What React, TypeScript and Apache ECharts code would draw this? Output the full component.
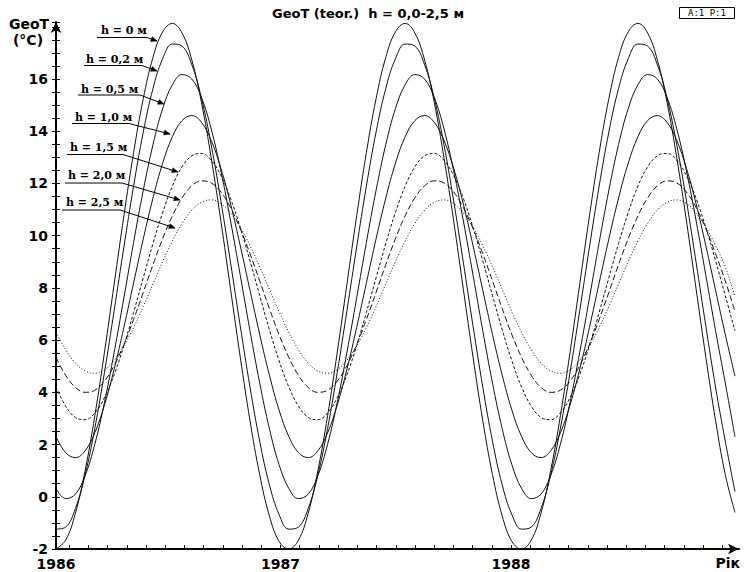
import React, { useEffect, useRef } from 'react';
import * as echarts from 'echarts';

// Axis tick labels
const yearLabels = ['1986', '1987', '1988'];
const tempTickValues = [-2, 0, 2, 4, 6, 8, 10, 12, 14, 16];

// Depth names (legend annotations)
const depthNames = ['h = 0 м', 'h = 0,2 м', 'h = 0,5 м', 'h = 1,0 м', 'h = 1,5 м', 'h = 2,0 м', 'h = 2,5 м'];

// Time grid: samples every ~15.4 days starting at the axis start (years after 1 Jan 1986)
const startYear = 0.026;
const sampleStep = 0.04208;

// Soil temperature (°C) at each depth
const h00 = [
  -2.0, -1.66, -0.63, 1.0, 3.1, 5.54, 8.16, 10.76, 13.18, 15.25, 16.83, 17.81, 18.13, 17.76, 16.73, 15.1, 12.98, 10.56, 7.94, 5.34, 2.92, 0.85, -0.73, -1.71,
  -2.0, -1.66, -0.63, 1.0, 3.1, 5.54, 8.16, 10.76, 13.18, 15.25, 16.83, 17.81, 18.13, 17.76, 16.73, 15.1, 12.98, 10.56, 7.94, 5.34, 2.92, 0.85, -0.73, -1.71,
  -2.0, -1.66, -0.63, 1.0, 3.1, 5.54, 8.16, 10.76, 13.18, 15.25, 16.83, 17.81, 18.13, 17.76, 16.73, 15.1, 12.98, 10.56, 7.94, 5.34, 2.92, 0.85, -0.6,
];
const h02 = [
  -1.24, -1.16, -0.45, 0.84, 2.62, 4.77, 7.14, 9.57, 11.9, 13.97, 15.64, 16.78, 17.34, 17.26, 16.55, 15.26, 13.48, 11.33, 8.96, 6.53, 4.2, 2.13, 0.46, -0.68,
  -1.24, -1.16, -0.45, 0.84, 2.62, 4.77, 7.14, 9.57, 11.9, 13.97, 15.64, 16.78, 17.34, 17.26, 16.55, 15.26, 13.48, 11.33, 8.96, 6.53, 4.2, 2.13, 0.46, -0.68,
  -1.24, -1.16, -0.45, 0.84, 2.62, 4.77, 7.14, 9.57, 11.9, 13.97, 15.64, 16.78, 17.34, 17.26, 16.55, 15.26, 13.48, 11.33, 8.96, 6.53, 4.2, 2.13, 0.2,
];
const h05 = [
  0.32, -0.07, 0.1, 0.81, 2.01, 3.62, 5.54, 7.62, 9.74, 11.74, 13.49, 14.87, 15.78, 16.17, 16.0, 15.29, 14.09, 12.48, 10.56, 8.48, 6.36, 4.36, 2.61, 1.23,
  0.32, -0.07, 0.1, 0.81, 2.01, 3.62, 5.54, 7.62, 9.74, 11.74, 13.49, 14.87, 15.78, 16.17, 16.0, 15.29, 14.09, 12.48, 10.56, 8.48, 6.36, 4.36, 2.61, 1.23,
  0.32, -0.07, 0.1, 0.81, 2.01, 3.62, 5.54, 7.62, 9.74, 11.74, 13.49, 14.87, 15.78, 16.17, 16.0, 15.29, 14.09, 12.48, 10.56, 8.48, 6.36, 4.36, 2.3,
];
const h10 = [
  2.31, 1.69, 1.5, 1.76, 2.45, 3.52, 4.89, 6.49, 8.19, 9.88, 11.44, 12.78, 13.79, 14.41, 14.6, 14.34, 13.65, 12.58, 11.21, 9.61, 7.91, 6.22, 4.66, 3.32,
  2.31, 1.69, 1.5, 1.76, 2.45, 3.52, 4.89, 6.49, 8.19, 9.88, 11.44, 12.78, 13.79, 14.41, 14.6, 14.34, 13.65, 12.58, 11.21, 9.61, 7.91, 6.22, 4.66, 3.32,
  2.31, 1.69, 1.5, 1.76, 2.45, 3.52, 4.89, 6.49, 8.19, 9.88, 11.44, 12.78, 13.79, 14.41, 14.6, 14.34, 13.65, 12.58, 11.21, 9.61, 7.91, 6.22, 4.62,
];
const h15 = [
  4.21, 3.47, 3.04, 2.95, 3.21, 3.8, 4.68, 5.79, 7.06, 8.39, 9.7, 10.89, 11.9, 12.64, 13.06, 13.15, 12.89, 12.3, 11.42, 10.31, 9.04, 7.71, 6.4, 5.21,
  4.21, 3.47, 3.04, 2.95, 3.21, 3.8, 4.68, 5.79, 7.06, 8.39, 9.7, 10.89, 11.9, 12.64, 13.06, 13.15, 12.89, 12.3, 11.42, 10.31, 9.04, 7.71, 6.4, 5.21,
  4.21, 3.47, 3.04, 2.95, 3.21, 3.8, 4.68, 5.79, 7.06, 8.39, 9.7, 10.89, 11.9, 12.64, 13.06, 13.15, 12.89, 12.3, 11.42, 10.31, 9.04, 7.71, 6.35,
];
const h20 = [
  5.34, 4.65, 4.19, 4.0, 4.08, 4.43, 5.03, 5.83, 6.79, 7.83, 8.89, 9.89, 10.76, 11.45, 11.91, 12.1, 12.02, 11.67, 11.07, 10.27, 9.31, 8.27, 7.21, 6.21,
  5.34, 4.65, 4.19, 4.0, 4.08, 4.43, 5.03, 5.83, 6.79, 7.83, 8.89, 9.89, 10.76, 11.45, 11.91, 12.1, 12.02, 11.67, 11.07, 10.27, 9.31, 8.27, 7.21, 6.21,
  5.34, 4.65, 4.19, 4.0, 4.08, 4.43, 5.03, 5.83, 6.79, 7.83, 8.89, 9.89, 10.76, 11.45, 11.91, 12.1, 12.02, 11.67, 11.07, 10.27, 9.31, 8.27, 7.1,
];
const h25 = [
  6.3, 5.63, 5.12, 4.82, 4.73, 4.87, 5.23, 5.78, 6.48, 7.29, 8.15, 9.01, 9.8, 10.47, 10.98, 11.28, 11.37, 11.23, 10.87, 10.32, 9.62, 8.81, 7.95, 7.09,
  6.3, 5.63, 5.12, 4.82, 4.73, 4.87, 5.23, 5.78, 6.48, 7.29, 8.15, 9.01, 9.8, 10.47, 10.98, 11.28, 11.37, 11.23, 10.87, 10.32, 9.62, 8.81, 7.95, 7.09,
  6.3, 5.63, 5.12, 4.82, 4.73, 4.87, 5.23, 5.78, 6.48, 7.29, 8.15, 9.01, 9.8, 10.47, 10.98, 11.28, 11.37, 11.23, 10.87, 10.32, 9.62, 8.81, 7.65,
];

const seriesValues = [h00, h02, h05, h10, h15, h20, h25];
const dashStyles: any[] = ['solid', 'solid', 'solid', 'solid', [3, 2], [6, 3], [1, 2]];

// annotation layout (pixels)
const notes = [
  { tx: 101, ty: 30, ux0: 97, ux1: 147, uy: 37.5, ax: 157, ay: 41 },
  { tx: 86, ty: 59, ux0: 84, ux1: 142, uy: 65.5, ax: 157, ay: 71 },
  { tx: 81, ty: 89, ux0: 78, ux1: 140, uy: 95, ax: 164, ay: 104 },
  { tx: 75, ty: 117.5, ux0: 72, ux1: 129, uy: 123.5, ax: 170, ay: 134 },
  { tx: 70, ty: 147.5, ux0: 67, ux1: 123, uy: 154.5, ax: 178, ay: 172 },
  { tx: 68, ty: 175, ux0: 65, ux1: 122, uy: 183, ax: 180, ay: 200 },
  { tx: 66, ty: 202.5, ux0: 62, ux1: 120, uy: 210, ax: 175, ay: 228 },
];

function arrowHead(x1: number, y1: number, x2: number, y2: number, len = 6, half = 2.5) {
  const dx = x2 - x1;
  const dy = y2 - y1;
  const L = Math.hypot(dx, dy) || 1;
  const ux = dx / L;
  const uy = dy / L;
  const bx = x2 - ux * len;
  const by = y2 - uy * len;
  return [
    [x2, y2],
    [bx - uy * half, by + ux * half],
    [bx + uy * half, by - ux * half],
  ];
}

export default function App() {
  const ref = useRef<HTMLDivElement>(null);
  useEffect(() => {
    document.body.style.margin = '0';
    const chart = echarts.init(ref.current!, null, { renderer: 'svg' });
    const xMax = startYear + 683 / 230.5;
    const monthTicks = Array.from({ length: 36 }, (_, i) => (i + 1) / 12).filter((v) => v < xMax);

    const series = seriesValues.map((vals, i) => ({
      type: 'line',
      name: depthNames[i],
      data: vals.map((v, k) => [startYear + k * sampleStep, v]),
      showSymbol: false,
      symbol: 'none',
      smooth: 0.4,
      silent: true,
      lineStyle: { color: '#111', width: 1, type: dashStyles[i] },
    }));

    const graphics: any[] = [];
    notes.forEach((n, i) => {
      graphics.push({
        type: 'text',
        x: n.tx,
        y: n.ty,
        style: {
          text: depthNames[i],
          font: 'bold 11px "DejaVu Serif"',
          fill: '#000',
          textAlign: 'left',
          textVerticalAlign: 'middle',
        },
        z: 100,
      });
      graphics.push({
        type: 'polyline',
        shape: { points: [[n.ux0, n.uy], [n.ux1, n.uy], [n.ax, n.ay]] },
        style: { stroke: '#000', lineWidth: 1, fill: 'none' },
        z: 100,
      });
      graphics.push({
        type: 'polygon',
        shape: { points: arrowHead(n.ux1, n.uy, n.ax, n.ay) },
        style: { fill: '#000', stroke: '#000', lineWidth: 0.5 },
        z: 100,
      });
    });
    graphics.push(
      {
        type: 'text',
        x: 29,
        y: 24,
        style: { text: 'GeoT', font: 'bold 14px "DejaVu Sans"', fill: '#000', textAlign: 'center', textVerticalAlign: 'middle' },
      },
      {
        type: 'text',
        x: 28,
        y: 40,
        style: { text: '(°C)', font: 'bold 14px "DejaVu Sans"', fill: '#000', textAlign: 'center', textVerticalAlign: 'middle' },
      },
      {
        type: 'text',
        x: 740,
        y: 563,
        style: { text: 'Рік', font: 'bold 14px "DejaVu Sans"', fill: '#000', textAlign: 'right', textVerticalAlign: 'middle' },
      },
      {
        type: 'text',
        x: 368,
        y: 13,
        style: { text: 'GeoT (teor.)  h = 0,0-2,5 м', font: 'bold 13px "DejaVu Sans"', fill: '#000', textAlign: 'center', textVerticalAlign: 'middle' },
      },
      {
        type: 'rect',
        shape: { x: 679.5, y: 7.5, width: 55, height: 11 },
        style: { fill: 'none', stroke: '#000', lineWidth: 1 },
      },
      {
        type: 'text',
        x: 707,
        y: 13,
        style: { text: 'A:1 P:1', font: '9px "DejaVu Sans Mono"', fill: '#000', textAlign: 'center', textVerticalAlign: 'middle' },
      }
    );

    const yMin = -2;
    const yMax = -2 + 527 / 26.11;

    chart.setOption({
      animation: false,
      backgroundColor: '#fff',
      grid: { left: 56, right: 5, top: 22, bottom: 23, containLabel: false },
      xAxis: {
        type: 'value',
        min: startYear,
        max: xMax,
        axisLine: {
          show: true,
          onZero: false,
          lineStyle: { color: '#000', width: 2 },
          symbol: ['none', 'arrow'],
          symbolSize: [8, 11],
        },
        axisTick: { show: true, inside: true, length: 4, customValues: monthTicks, lineStyle: { color: '#000', width: 1 } },
        axisLabel: {
          customValues: [startYear, 1, 2],
          formatter: (v: number) => yearLabels[Math.floor(v + 1e-6)] || '',
          color: '#000',
          fontFamily: 'DejaVu Sans',
          fontWeight: 'bold',
          fontSize: 14,
          lineHeight: 12,
          margin: 9,
        },
        splitLine: { show: false },
      },
      yAxis: [
        {
          type: 'value',
          min: yMin,
          max: yMax,
          interval: 2,
          axisLine: {
            show: true,
            onZero: false,
            lineStyle: { color: '#000', width: 2 },
            symbol: ['none', 'arrow'],
            symbolSize: [8, 11],
          },
          axisTick: { show: true, length: 4, lineStyle: { color: '#000', width: 1 } },
          minorTick: { show: true, splitNumber: 4, length: 4, lineStyle: { color: '#000', width: 1 } },
          axisLabel: {
            customValues: tempTickValues,
            formatter: (v: number) => String(v),
            color: '#000',
            fontFamily: 'DejaVu Sans',
            fontWeight: 'bold',
            fontSize: 14,
            lineHeight: 10,
            margin: 8,
          },
          splitLine: { show: false },
          minorSplitLine: { show: false },
        },
        {
          type: 'value',
          min: yMin,
          max: yMax,
          interval: 2,
          position: 'left',
          axisLine: { show: false },
          axisTick: { show: true, inside: true, length: 4, lineStyle: { color: '#000', width: 1 } },
          minorTick: { show: true, splitNumber: 4, length: 4, lineStyle: { color: '#000', width: 1 } },
          axisLabel: { show: false },
          splitLine: { show: false },
          minorSplitLine: { show: false },
        },
      ],
      series,
      graphic: graphics,
    });
    return () => chart.dispose();
  }, []);
  return <div ref={ref} style={{ width: 744, height: 572 }} />;
}
